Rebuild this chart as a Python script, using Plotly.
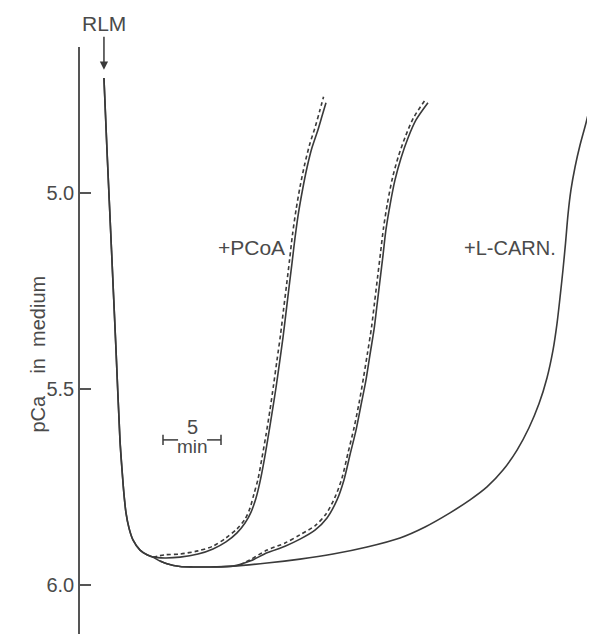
import plotly.graph_objects as go

# time in minutes after RLM addition; y = pCa in medium (axis reversed)
descent_t = [-0.09, 0.17, 0.56, 0.95, 1.29, 1.47, 1.64, 1.81, 2.07, 2.41, 3.02, 3.62, 4.14]
descent_p = [4.707, 4.890, 5.145, 5.401, 5.630, 5.707, 5.770, 5.816, 5.855, 5.885, 5.911, 5.923, 5.929]

# shared bottom of the control and L-carnitine traces
lower_t = [4.74, 5.34, 6.47, 7.59, 9.05, 11.03]
lower_p = [5.939, 5.946, 5.953, 5.954, 5.954, 5.952]

pcoa_t = [5.17, 6.47, 8.02, 9.31, 10.43, 11.38, 12.07, 12.59, 13.02, 13.36, 13.71, 14.05, 14.40, 14.74,
          15.04, 15.34, 15.60, 15.86, 16.12, 16.38, 16.68, 17.03, 17.41, 17.84, 18.36, 18.71, 19.05]
pcoa_p = [5.931, 5.929, 5.921, 5.908, 5.890, 5.867, 5.842, 5.814, 5.778, 5.737, 5.684, 5.625, 5.561, 5.497,
          5.434, 5.370, 5.306, 5.242, 5.179, 5.115, 5.051, 4.992, 4.936, 4.885, 4.839, 4.804, 4.770]

pcoa_dash_t = [4.14, 5.17, 6.47, 8.02, 9.31, 10.43, 11.38, 12.07, 12.50, 12.84, 13.19, 13.53, 13.88, 14.22,
               14.53, 14.83, 15.13, 15.39, 15.65, 15.91, 16.16, 16.47, 16.81, 17.20, 17.63, 18.15, 18.49, 18.84]
pcoa_dash_p = [5.929, 5.923, 5.921, 5.913, 5.901, 5.880, 5.857, 5.832, 5.804, 5.768, 5.730, 5.676, 5.617, 5.554,
               5.490, 5.426, 5.362, 5.298, 5.235, 5.171, 5.107, 5.043, 4.985, 4.929, 4.878, 4.829, 4.793, 4.755]

ctrl_t = [12.50, 13.97, 15.52, 16.81, 18.10, 19.14, 20.00, 20.60, 21.12, 21.64, 22.07, 22.50, 22.84, 23.19,
          23.45, 23.71, 23.97, 24.22, 24.57, 25.00, 25.52, 26.12, 26.81, 27.84]
ctrl_p = [5.939, 5.918, 5.901, 5.883, 5.860, 5.829, 5.783, 5.732, 5.668, 5.605, 5.541, 5.477, 5.413, 5.349,
          5.286, 5.222, 5.158, 5.094, 5.031, 4.967, 4.911, 4.860, 4.814, 4.770]

ctrl_dash_t = [11.64, 12.50, 13.97, 15.52, 16.81, 18.10, 19.05, 19.83, 20.43, 20.95, 21.47, 21.90, 22.28, 22.63,
               22.97, 23.23, 23.49, 23.75, 24.01, 24.35, 24.78, 25.30, 25.91, 26.59, 27.67]
ctrl_dash_p = [5.949, 5.936, 5.911, 5.893, 5.872, 5.849, 5.819, 5.776, 5.727, 5.663, 5.599, 5.536, 5.472, 5.408,
               5.344, 5.281, 5.217, 5.153, 5.089, 5.026, 4.962, 4.906, 4.855, 4.809, 4.760]

carn_t = [13.97, 16.81, 19.66, 22.59, 25.43, 27.59, 29.74, 31.47, 32.93, 34.31, 35.52, 36.55, 37.41, 38.10,
          38.62, 38.97, 39.22, 39.48, 39.70, 39.91, 40.17, 40.52, 40.95, 41.47, 41.98]
carn_p = [5.944, 5.934, 5.921, 5.903, 5.880, 5.852, 5.816, 5.783, 5.750, 5.707, 5.656, 5.599, 5.538, 5.472,
          5.401, 5.332, 5.268, 5.196, 5.128, 5.056, 4.992, 4.934, 4.878, 4.821, 4.758]

y_ticks = [5.0, 5.5, 6.0]
y_ticktext = ["5.0", "5.5", "6.0"]

INK = "#3a3a3a"
TXT = "#4a4a4a"
FONT = "Liberation Sans, Arial, sans-serif"

fig = go.Figure()

solid = dict(color=INK, width=1.6, shape="spline", smoothing=0.8)
dashed = dict(color=INK, width=1.6, shape="spline", smoothing=0.8, dash="4px,3px")

fig.add_trace(go.Scatter(x=descent_t + pcoa_t, y=descent_p + pcoa_p, mode="lines", line=solid, name="+PCoA"))
fig.add_trace(go.Scatter(x=pcoa_dash_t, y=pcoa_dash_p, mode="lines", line=dashed, name="+PCoA (2)"))
fig.add_trace(go.Scatter(x=descent_t + lower_t + ctrl_t, y=descent_p + lower_p + ctrl_p,
                         mode="lines", line=solid, name="control"))
fig.add_trace(go.Scatter(x=ctrl_dash_t, y=ctrl_dash_p, mode="lines", line=dashed, name="control (2)"))
fig.add_trace(go.Scatter(x=lower_t + carn_t, y=lower_p + carn_p, mode="lines", line=solid, name="+L-CARN."))

# 5 min scale bar
bar_y = 5.630
for x0, x1 in [(5.0, 6.3), (8.8, 10.0)]:
    fig.add_shape(type="line", x0=x0, x1=x1, y0=bar_y, y1=bar_y, line=dict(color=INK, width=1.5))
for xv in [5.0, 10.0]:
    fig.add_shape(type="line", x0=xv, x1=xv, y0=bar_y - 0.013, y1=bar_y + 0.013,
                  line=dict(color=INK, width=1.5))

annots = [
    dict(x=7.5, y=5.597, text="5", showarrow=False, font=dict(size=20)),
    dict(x=7.5, y=5.648, text="min", showarrow=False, font=dict(size=19)),
    dict(x=15.7, y=5.14, text="+PCoA", showarrow=False, xanchor="right", font=dict(size=21)),
    dict(x=39.05, y=5.14, text="+L-CARN.", showarrow=False, xanchor="right", font=dict(size=20)),
    dict(x=-0.09, y=4.686, text="RLM", showarrow=True, ax=0, ay=-46, arrowhead=2,
         arrowsize=1.1, arrowwidth=1.5, arrowcolor=INK, font=dict(size=21)),
    dict(x=-0.107, xref="paper", y=5.41, text="pCa\u00a0\u00a0\u00a0\u00a0in\u00a0\u00a0medium",
         showarrow=False, textangle=-90, font=dict(size=20)),
]
for a in annots:
    a.setdefault("xref", "x")
    a.setdefault("yref", "y")
    a["font"].update(color=TXT, family=FONT)
    fig.add_annotation(**a)

# page body adds an 8px margin, so the figure is sized to end at the window edge
fig.update_layout(
    width=587, height=626,
    margin=dict(l=72, r=0, t=39, b=0),
    paper_bgcolor="#ffffff", plot_bgcolor="#ffffff",
    showlegend=False,
    xaxis=dict(visible=False, range=[-2.155, 42.24]),
    yaxis=dict(range=[6.125, 4.628], showline=True, linecolor="#555555", linewidth=1.5,
               ticks="inside", ticklen=11, tickwidth=1.5, tickcolor="#555555",
               tickvals=y_ticks, ticktext=y_ticktext, showgrid=False, zeroline=False,
               tickfont=dict(family=FONT, size=20, color=TXT)),
)

fig.write_html("out.html")
